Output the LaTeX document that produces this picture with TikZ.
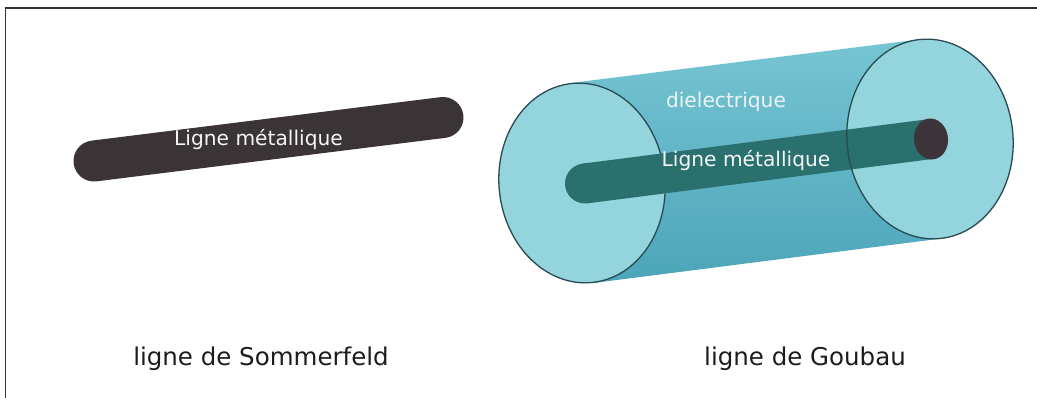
\documentclass[tikz,border=0pt]{standalone}
\usepackage{fontspec}
\setmainfont{DejaVu Sans}
\usetikzlibrary{shapes.geometric,backgrounds}

\definecolor{rodgray}{HTML}{3A3437}
\definecolor{rodteal}{HTML}{2A706F}
\definecolor{capdark}{HTML}{3C3438}
\definecolor{facecol}{HTML}{93D4DD}
\definecolor{bodytop}{HTML}{76C5D3}
\definecolor{bodybot}{HTML}{4CA5B8}
\definecolor{rim}{HTML}{2A4A52}
\definecolor{framecol}{HTML}{333333}
\definecolor{captioncol}{HTML}{1C1C1C}
\definecolor{labelwhite}{HTML}{F4F6F6}

\begin{document}
\begin{tikzpicture}[x=1pt,y=-1pt,
  cylface/.style={ellipse, minimum width=166pt, minimum height=200pt,
    inner sep=0pt, rotate=6, fill=facecol},
  rimline/.style={draw=rim, line width=1.3pt},
  rodlabel/.style={anchor=base, text=labelwhite, inner sep=0pt,
    font=\fontsize{20.2pt}{24pt}\selectfont},
  caption/.style={anchor=base, text=captioncol, inner sep=0pt,
    font=\fontsize{24.5pt}{29pt}\selectfont}]
\useasboundingbox (0,0) rectangle (1037,398);

% frame (left and top sides)
\coordinate (fbl) at (5.5,398);
\coordinate (ftl) at (5.5,8);
\coordinate (ftr) at (1037,8);
\draw[framecol, line width=1.6pt] (fbl) -- (ftl) -- (ftr);

% Sommerfeld line: a bare metal rod
\coordinate (sA) at (94,161);
\coordinate (sB) at (443,117.5);
\draw[rodgray, line width=41pt, line cap=round] (sA) -- (sB);
\node[rodlabel] (sLabel) at (258.5,146) {Ligne métallique};

% Goubau line: rod inside a dielectric cylinder
\node[cylface, rimline] (L) at (582,183) {};
\node[cylface] (R) at (930,139) {};
\begin{pgfonlayer}{background}
  \shade[top color=bodytop, bottom color=bodybot]
    (L.north) -- (R.north) -- (R.south) -- (L.south) -- cycle;
\end{pgfonlayer}

\coordinate (gA) at (585,183.5);
\node[ellipse, minimum width=34pt, minimum height=41pt, inner sep=0pt,
  rotate=6] (cap) at (931,139) {};
\fill[rodteal] (gA) circle (20);
\draw[rodteal, line width=40pt] (gA) -- (cap.center);
\fill[capdark, rotate around={6:(cap.center)}] (cap.center)
  ellipse [x radius=17, y radius=20.5];
\draw[rimline, rotate around={6:(R.center)}] (R.center)
  ellipse [x radius=83, y radius=100];

\node[rodlabel] (gLabel) at (746,167) {Ligne métallique};
\node[rodlabel, text=labelwhite!92!facecol] (dLabel) at (726,108) {dielectrique};

% captions
\node[caption] (capS) at (261,366) {ligne de Sommerfeld};
\node[caption] (capG) at (805,366) {ligne de Goubau};
\end{tikzpicture}
\end{document}
